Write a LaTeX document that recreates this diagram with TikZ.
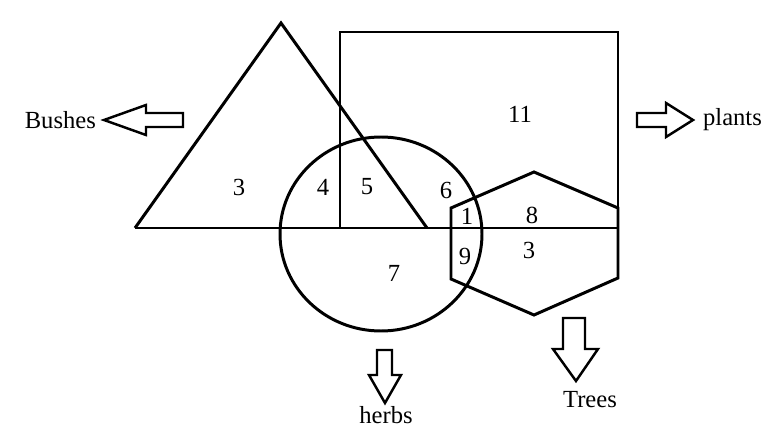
\documentclass[tikz,border=0pt]{standalone}
\usepackage{fontspec}
\setmainfont{Liberation Serif}
\usepackage{tikz}
\usetikzlibrary{calc}

\tikzset{
  region/.style={line width=1.7pt, line join=miter},
  blockarrow/.style={line width=1.4pt, line join=miter, fill=white},
  num/.style={font=\fontsize{14}{16}\selectfont, inner sep=0pt},
  word/.style={font=\fontsize{14}{17}\selectfont, inner sep=1pt}
}

\begin{document}
\begin{tikzpicture}[x=0.02cm, y=-0.02cm]

    %% Background
    \useasboundingbox (0,0) rectangle (778,439);

    % Bushes (triangle) and base line
    \draw[region] (135,228) -- (281,23) -- (427,228);
    \draw[region] (135,228) -- (618,228);

    % Plants (rectangle)
    \draw[region] (340,228) -- (340,32) -- (618,32) -- (618,278);

    % Herbs (circle)
    \draw[region] (381,234) ellipse [x radius=101, y radius=97];

    % Trees (hexagon)
    \draw[region]
    (451,208) -- (534,172) -- (618,208) -- (618,278)
    -- (534,315) -- (451,279) -- cycle;

    % Numbers
    \node[num] (nBushes) at (239,187) {3};
    \node[num] (nBH)     at (323,187) {4};
    \node[num] (nBPH)    at (367,187) {5};
    \node[num] (nPH)     at (446,190) {6};
    \node[num] (nPHT)    at (467,216) {1};
    \node[num] (nPT)     at (532,215) {8};
    \node[num] (nHT)     at (465,256) {9};
    \node[num] (nTrees)  at (529,250) {3};
    \node[num] (nHerbs)  at (394,273) {7};
    \node[num] (nPlants) at (520,114) {11};

    % Arrows
    \draw[blockarrow]
    (104,120) -- (146,105) -- (146,113) -- (183,113)
    -- (183,127) -- (146,127) -- (146,135) -- cycle;
    \draw[blockarrow]
    (693,120) -- (666,103) -- (666,113) -- (637,113)
    -- (637,127) -- (666,127) -- (666,137) -- cycle;
    \draw[blockarrow]
    (385,403) -- (369,375) -- (377,375) -- (377,350)
    -- (392,350) -- (392,375) -- (401,375) -- cycle;
    \draw[blockarrow]
    (576,381) -- (553,349) -- (563,349) -- (563,318)
    -- (585,318) -- (585,349) -- (598,349) -- cycle;

    % Names
    \node[word, anchor=east] (bushes) at (98,120) {Bushes};
    \node[word, anchor=west] (plants) at (701,120) {plants};
    \node[word] (herbs) at (386,415) {herbs};
    \node[word] (trees) at (590,400) {Trees};

\end{tikzpicture}
\end{document}
